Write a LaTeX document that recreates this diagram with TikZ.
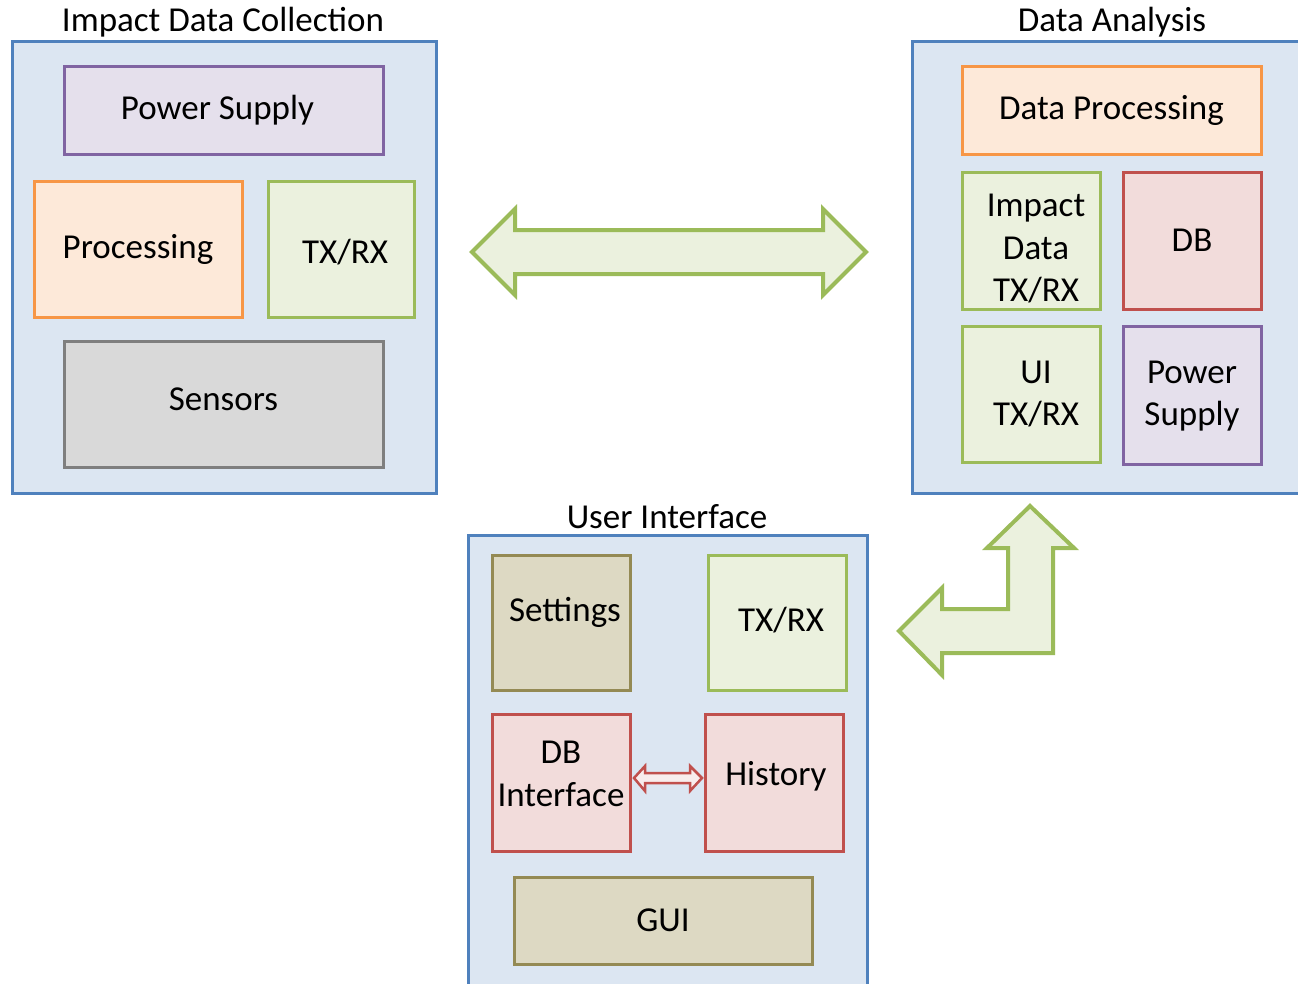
\documentclass[tikz,border=0pt]{standalone}
\usepackage{fontspec}
\setmainfont{Carlito}
\definecolor{cblue}{HTML}{4F81BD}
\definecolor{cbluefill}{HTML}{DCE6F2}
\definecolor{cpurple}{HTML}{8064A2}
\definecolor{cpurplefill}{HTML}{E5E0EC}
\definecolor{corange}{HTML}{F79646}
\definecolor{corangefill}{HTML}{FDE9D9}
\definecolor{cgreen}{HTML}{9BBB59}
\definecolor{cgreenfill}{HTML}{EBF1DE}
\definecolor{cred}{HTML}{C0504D}
\definecolor{credfill}{HTML}{F2DCDB}
\definecolor{cgray}{HTML}{7F7F7F}
\definecolor{cgrayfill}{HTML}{D9D9D9}
\definecolor{colive}{HTML}{948A54}
\definecolor{colivefill}{HTML}{DDD9C3}
% shift a label inside its box without changing the box
\newcommand{\nudge}[3]{\hspace*{#1}\raisebox{#2}[\height][\depth]{#3}}
\tikzset{
  container/.style={draw=cblue, fill=cbluefill, line width=3pt},
  title/.style={font=\fontsize{35}{42}\selectfont, inner sep=0pt},
  block/.style={line width=3pt, inner sep=0pt, align=center,
    font=\fontsize{35}{42.5}\selectfont},
  purpleblock/.style={block, draw=cpurple, fill=cpurplefill},
  orangeblock/.style={block, draw=corange, fill=corangefill},
  greenblock/.style={block, draw=cgreen, fill=cgreenfill},
  redblock/.style={block, draw=cred, fill=credfill},
  grayblock/.style={block, draw=cgray, fill=cgrayfill},
  oliveblock/.style={block, draw=colive, fill=colivefill},
  fatarrow/.style={draw=cgreen, fill=cgreenfill, line width=4pt, line join=miter},
  thinarrow/.style={draw=cred, fill=credfill!50!white, line width=2.5pt, line join=miter},
}
\begin{document}
\begin{tikzpicture}[x=1pt, y=-1pt]
\useasboundingbox (0,0) rectangle (1298,983);
\clip (0,0) rectangle (1298,983);

% ---- Impact Data Collection ----
\node[title] (t1) at (223,22) {Impact Data Collection};
\draw[container] (12,41) rectangle (436,493);
\node[purpleblock, minimum width=319, minimum height=88] (ps1) at (223.5,110) {\nudge{-12pt}{0pt}{Power Supply}};
\node[orangeblock, minimum width=208, minimum height=136] (proc) at (138,249) {Processing};
\node[greenblock, minimum width=146, minimum height=136] (tx1) at (341,249) {\nudge{8pt}{-3pt}{TX/RX}};
\node[grayblock, minimum width=319, minimum height=126] (sens) at (223.5,404) {\nudge{0pt}{5pt}{Sensors}};

% ---- double arrow between collection and analysis ----
\draw[fatarrow] (472,252) -- (515,209) -- (515,230) -- (823,230) -- (823,209)
  -- (866,252) -- (823,295) -- (823,274) -- (515,274) -- (515,295) -- cycle;

% ---- Data Analysis ----
\node[title] (t2) at (1112,22) {Data Analysis};
\draw[container] (912,41) rectangle (1320,493);
\node[orangeblock, minimum width=299, minimum height=88] (dp) at (1111.5,110) {Data Processing};
\node[greenblock, minimum width=138, minimum height=137] (idtx) at (1031,240.5)
  {\raisebox{-10pt}[\height][\depth]{\begin{tabular}{@{\hspace{10pt}}c@{}}Impact\\Data\\TX/RX\end{tabular}}};
\node[redblock, minimum width=138, minimum height=137] (db) at (1192,240.5) {DB};
\node[greenblock, minimum width=138, minimum height=136] (uitx) at (1031,394)
  {\raisebox{-2pt}[\height][\depth]{\begin{tabular}{@{\hspace{10pt}}c@{}}UI\\TX/RX\end{tabular}}};
\node[purpleblock, minimum width=138, minimum height=138] (ps2) at (1192,395)
  {\raisebox{-1pt}[\height][\depth]{\begin{tabular}{@{}c@{}}Power\\Supply\end{tabular}}};

% ---- bent arrow between analysis and user interface ----
\draw[fatarrow] (1030,506) -- (1074,548) -- (1053,548) -- (1053,653) -- (942,653)
  -- (942,675) -- (899,631) -- (942,588) -- (942,609) -- (1008,609) -- (1008,548)
  -- (987,548) -- cycle;

% ---- User Interface ----
\node[title] (t3) at (667,517) {User Interface};
\draw[container] (468,535) rectangle (867,1000);
\node[oliveblock, minimum width=138, minimum height=135] (set) at (561,622.5) {\nudge{8pt}{10pt}{Settings}};
\node[greenblock, minimum width=138, minimum height=135] (tx3) at (777,622.5) {\nudge{8pt}{2pt}{TX/RX}};
\node[redblock, minimum width=138, minimum height=137] (dbi) at (561,782.5)
  {\raisebox{6pt}[\height][\depth]{\begin{tabular}{@{}c@{}}DB\\Interface\end{tabular}}};
\node[redblock, minimum width=138, minimum height=137] (hist) at (774,782.5) {\nudge{4pt}{6pt}{History}};
\node[oliveblock, minimum width=298, minimum height=87] (gui) at (663,920.5) {GUI};

% ---- small double arrow between DB Interface and History ----
\draw[thinarrow] (634,778) -- (645,766) -- (645,773) -- (690,773) -- (690,766)
  -- (702,778) -- (690,791) -- (690,783) -- (645,783) -- (645,791) -- cycle;
\end{tikzpicture}
\end{document}
